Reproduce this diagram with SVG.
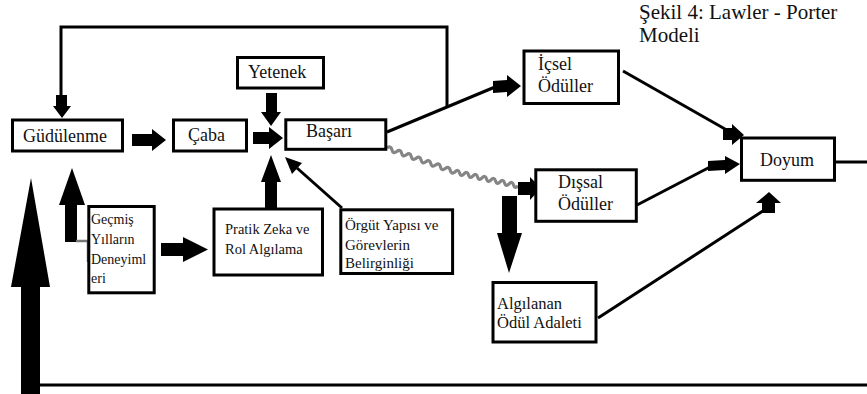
<svg xmlns="http://www.w3.org/2000/svg" width="867" height="394" viewBox="0 0 867 394">
<style>
.box{fill:#fff;stroke:#000;stroke-width:3}
.t{font-family:"Liberation Serif","Times New Roman",serif;fill:#111}
.l{font-size:18px}
.s{font-size:14.5px}
.ln{fill:none;stroke:#000;stroke-width:3}
.blk{fill:#000}
</style>
<rect width="867" height="394" fill="#fff"/>
<g id="connectors">
<polyline class="ln" points="447,106 447,27 61,27 61,96"/>
<polygon class="blk" points="56,95 67,95 67,106 71,106 62,118 53,106 56,106"/>
<polygon class="blk" points="132,134 152,134 152,129 166,140 152,151 152,146 132,146"/>
<polygon class="blk" points="253,132 269,132 269,127 283,138 269,149 269,144 253,144"/>
<polygon class="blk" points="266,93 277,93 277,112 281,112 271,126 261,112 266,112"/>
<polygon class="blk" points="265,208 265,182 261,182 271,155 281,182 277,182 277,208"/>
<line class="ln" x1="342" y1="208" x2="297" y2="168" stroke-width="2.5"/>
<polygon class="blk" points="285,157 302,163 292,174"/>
<polygon class="blk" points="161,243 183,243 183,237 208,249.5 183,262 183,256 161,256"/>
<polygon class="blk" points="65,242 65,205 59,205 72,168 85,205 77,205 77,242"/>
<polyline points="76,241 88,241 88,262" fill="none" stroke="#777" stroke-width="2.5"/>
<polygon class="blk" points="21,394 21,287 11,287 31,178 50,287 40,287 40,394"/>
<line class="ln" x1="40" y1="385" x2="867" y2="385"/>
<line class="ln" x1="387" y1="132" x2="495" y2="87"/>
<polygon class="blk" points="493,81 507,80 507,75 521,86 507,97 507,92 493,93"/>
<path d="M387,148 q3.76,-2.91 4.86,1.71 t4.86,1.71 t4.86,1.71 t4.86,1.71 t4.86,1.71 t4.86,1.71 t4.86,1.71 t4.86,1.71 t4.86,1.71 t4.86,1.71 t4.86,1.71 t4.86,1.71 t4.86,1.71 t4.86,1.71 q3.12,-3.4 4.5,1 t4.5,1 t4.5,1 t4.5,1 t4.5,1 t4.5,1 t4.5,1 t4.5,1 t4.5,1 t4.5,1 t4.5,1 t4.5,1 t4.5,1 t4.5,1" fill="none" stroke="#858585" stroke-width="3.2"/>
<polygon class="blk" points="518,182 530,182 530,177 541,188 530,200 530,195 518,195"/>
<polygon class="blk" points="502,196 517,196 517,233 522,233 509,273 497,233 502,233"/>
<line class="ln" x1="623" y1="71" x2="725" y2="129"/>
<polygon class="blk" points="723,128 732,128 732,124 744,135 732,145 732,140 723,140"/>
<line class="ln" x1="637" y1="205" x2="710" y2="167"/>
<polygon class="blk" points="708,161 725,160 725,156 740,164 725,174 725,170 708,171"/>
<line class="ln" x1="598" y1="318" x2="766" y2="209"/>
<polygon class="blk" points="762,213 762,203 756,203 769,192 781,203 775,203 775,213"/>
<line class="ln" x1="836" y1="162" x2="867" y2="162"/>
</g>
<g id="title"><text class="t" x="639" y="19" font-size="21">Şekil 4: Lawler - Porter</text><text class="t" x="639" y="42" font-size="21">Modeli</text></g>
<g id="gudulenme"><rect class="box" x="12.5" y="120" width="110" height="31"/><text class="t l" x="23" y="142">Güdülenme</text></g>
<g id="caba"><rect class="box" x="173.5" y="120" width="73" height="31"/><text class="t l" x="188" y="141">Çaba</text></g>
<g id="yetenek"><rect class="box" x="237.5" y="57.5" width="86" height="30.5"/><text class="t l" x="248" y="78">Yetenek</text></g>
<g id="basari"><rect class="box" x="285.8" y="119.8" width="100" height="29.5"/><text class="t l" x="306" y="137">Başarı</text></g>
<g id="icsel"><rect class="box" x="524" y="51" width="94.5" height="52.5"/><text class="t l" x="538" y="70">İçsel</text><text class="t l" x="538" y="92">Ödüller</text></g>
<g id="dissal"><rect class="box" x="535.8" y="169.8" width="100.5" height="51.5"/><text class="t l" x="558" y="188">Dışsal</text><text class="t l" x="558" y="210">Ödüller</text></g>
<g id="doyum"><rect class="box" x="741.5" y="138" width="93" height="42.3"/><text class="t l" x="760" y="166">Doyum</text></g>
<g id="algilanan"><rect class="box" x="493" y="282.5" width="103" height="59.5"/><text class="t" font-size="16.5" x="497" y="309">Algılanan</text><text class="t" font-size="16.5" x="497" y="328">Ödül Adaleti</text></g>
<g id="pratik"><rect class="box" x="214" y="209" width="108.5" height="66"/><text class="t s" x="225" y="234">Pratik Zeka ve</text><text class="t s" x="225" y="254">Rol Algılama</text></g>
<g id="orgut"><rect class="box" x="340.8" y="209.8" width="111.8" height="63.7"/><text class="t" font-size="15" x="345" y="230">Örgüt Yapısı ve</text><text class="t" font-size="15" x="345" y="250">Görevlerin</text><text class="t" font-size="15" x="345" y="268">Belirginliği</text></g>
<g id="gecmis"><rect class="box" x="88.8" y="206.5" width="65.4" height="86.3" stroke-width="2.5"/><text class="t" font-size="14" x="91" y="224">Geçmiş</text><text class="t" font-size="14" x="91" y="244">Yılların</text><text class="t" font-size="14" x="91" y="264">Deneyiml</text><text class="t" font-size="14" x="91" y="283">eri</text></g>
</svg>
